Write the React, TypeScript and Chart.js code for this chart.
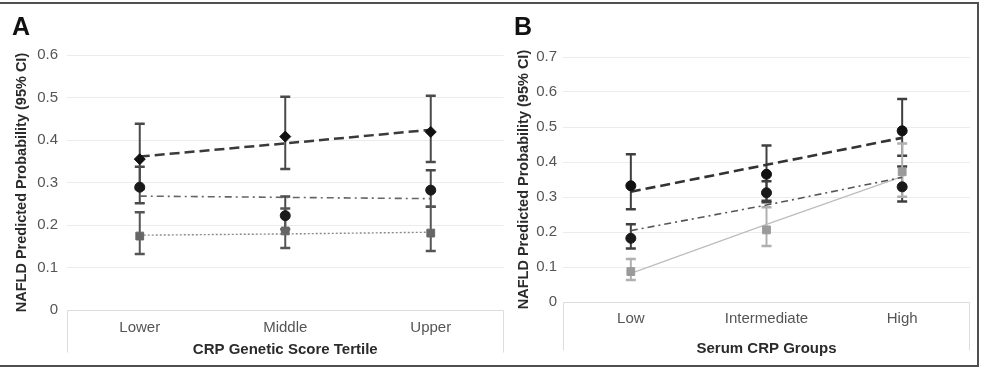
import { useEffect, useRef } from "react";
import { Chart, registerables } from "chart.js";

Chart.register(...registerables);

const FONT = "'Liberation Sans', Arial, Helvetica, sans-serif";

// ---- Panel A: CRP genetic score tertiles ----
const tertiles = ["Lower", "Middle", "Upper"];
const aYMax = 0.6;
const aSeries1 = [0.355, 0.408, 0.419];
const aSeries1Low = [0.285, 0.332, 0.348];
const aSeries1High = [0.438, 0.502, 0.504];
const aSeries2 = [0.289, 0.222, 0.282];
const aSeries2Low = [0.251, 0.19, 0.243];
const aSeries2High = [0.337, 0.267, 0.329];
const aSeries3 = [0.174, 0.186, 0.181];
const aSeries3Low = [0.132, 0.146, 0.139];
const aSeries3High = [0.23, 0.239, 0.243];
const aTrend1 = [0.361, 0.392, 0.424];
const aTrend2 = [0.268, 0.265, 0.262];
const aTrend3 = [0.176, 0.179, 0.183];

// ---- Panel B: serum CRP groups ----
const crpGroups = ["Low", "Intermediate", "High"];
const bYMax = 0.7;
const bSeries1 = [0.332, 0.365, 0.489];
const bSeries1Low = [0.265, 0.289, 0.418];
const bSeries1High = [0.422, 0.447, 0.58];
const bSeries2 = [0.182, 0.312, 0.329];
const bSeries2Low = [0.153, 0.285, 0.287];
const bSeries2High = [0.222, 0.345, 0.387];
const bSeries3 = [0.087, 0.206, 0.372];
const bSeries3Low = [0.063, 0.16, 0.301];
const bSeries3High = [0.123, 0.271, 0.453];
const bTrend1 = [0.315, 0.392, 0.469];
const bTrend2 = [0.204, 0.277, 0.356];
const bTrend3 = [0.082, 0.222, 0.358];

// Vertical 95% CI whiskers with caps, drawn under the markers
const errorBars = {
  id: "errorBars",
  beforeDatasetsDraw(chart: any) {
    const { ctx } = chart;
    const yScale = chart.scales.y;
    chart.data.datasets.forEach((ds: any, i: number) => {
      if (!ds.errLow) return;
      const meta = chart.getDatasetMeta(i);
      ctx.save();
      ctx.strokeStyle = ds.errColor;
      meta.data.forEach((pt: any, j: number) => {
        const x = pt.x;
        const yLo = yScale.getPixelForValue(ds.errLow[j]);
        const yHi = yScale.getPixelForValue(ds.errHigh[j]);
        ctx.lineWidth = 2;
        ctx.beginPath();
        ctx.moveTo(x, yLo);
        ctx.lineTo(x, yHi);
        ctx.stroke();
        ctx.lineWidth = 2.5;
        ctx.beginPath();
        ctx.moveTo(x - 5, yLo);
        ctx.lineTo(x + 5, yLo);
        ctx.moveTo(x - 5, yHi);
        ctx.lineTo(x + 5, yHi);
        ctx.stroke();
      });
      ctx.restore();
    });
  },
};

// Light frame around the category axis area
const axisBox = {
  id: "axisBox",
  beforeDatasetsDraw(chart: any, _args: any, opts: any) {
    const { ctx, chartArea } = chart;
    const y0 = Math.round(chart.scales.y.getPixelForValue(0)) + 0.5;
    const l = Math.round(chartArea.left) + 0.5;
    const r = Math.round(chartArea.right) - 0.5;
    ctx.save();
    ctx.strokeStyle = "#dcdcdc";
    ctx.lineWidth = 1;
    ctx.beginPath();
    ctx.moveTo(l, y0 + opts.depth);
    ctx.lineTo(l, y0);
    ctx.lineTo(r, y0);
    ctx.lineTo(r, y0 + opts.depth);
    ctx.stroke();
    ctx.restore();
  },
};

type Panel = {
  labels: string[];
  yMax: number;
  xTitle: string;
  points: { data: number[]; low: number[]; high: number[]; style: string; color: string; err: string; radius: number }[];
  trends: { data: number[]; color: string; width: number; dash: number[] }[];
  padding: { left: number; top: number; right: number };
  yWidth: number;
  yTickPad: number;
  xHeight: number;
  xTickPad: number;
  xTitlePad: number;
  boxDepth: number;
};

const panelA: Panel = {
  labels: tertiles,
  yMax: aYMax,
  xTitle: "CRP Genetic Score Tertile",
  points: [
    { data: aSeries1, low: aSeries1Low, high: aSeries1High, style: "rectRot", color: "#111", err: "#4a4a4a", radius: 5.5 },
    { data: aSeries2, low: aSeries2Low, high: aSeries2High, style: "circle", color: "#1a1a1a", err: "#4a4a4a", radius: 5 },
    { data: aSeries3, low: aSeries3Low, high: aSeries3High, style: "rect", color: "#666", err: "#555", radius: 5.5 },
  ],
  trends: [
    { data: aTrend1, color: "#3a3a3a", width: 2.5, dash: [10, 5] },
    { data: aTrend2, color: "#666", width: 1.6, dash: [7, 4, 2, 4] },
    { data: aTrend3, color: "#8a8a8a", width: 1.4, dash: [2, 2] },
  ],
  padding: { left: 13, top: 55, right: 5 },
  yWidth: 54,
  yTickPad: 9,
  xHeight: 58,
  xTickPad: 9,
  xTitlePad: 9,
  boxDepth: 42,
};

const panelB: Panel = {
  labels: crpGroups,
  yMax: bYMax,
  xTitle: "Serum CRP Groups",
  points: [
    { data: bSeries1, low: bSeries1Low, high: bSeries1High, style: "circle", color: "#111", err: "#3f3f3f", radius: 5 },
    { data: bSeries2, low: bSeries2Low, high: bSeries2High, style: "circle", color: "#1a1a1a", err: "#3f3f3f", radius: 5 },
    { data: bSeries3, low: bSeries3Low, high: bSeries3High, style: "rect", color: "#9a9a9a", err: "#b0b0b0", radius: 5.5 },
  ],
  trends: [
    { data: bTrend1, color: "#333", width: 2.6, dash: [10, 5] },
    { data: bTrend2, color: "#555", width: 1.6, dash: [7, 4, 2, 4] },
    { data: bTrend3, color: "#bdbdbd", width: 1.3, dash: [] },
  ],
  padding: { left: 5, top: 57, right: 25 },
  yWidth: 48,
  yTickPad: 6,
  xHeight: 66,
  xTickPad: 8,
  xTitlePad: 10,
  boxDepth: 48,
};

function PanelChart({ panel, width, height }: { panel: Panel; width: number; height: number }) {
  const ref = useRef<HTMLCanvasElement>(null);
  useEffect(() => {
    if (!ref.current) return;
    const datasets: any[] = [];
    panel.points.forEach((p) => {
      datasets.push({
        type: "line",
        data: p.data,
        showLine: false,
        pointStyle: p.style,
        pointRadius: p.radius,
        pointBackgroundColor: p.color,
        pointBorderColor: p.color,
        pointBorderWidth: 1,
        errLow: p.low,
        errHigh: p.high,
        errColor: p.err,
        order: 0,
      });
    });
    panel.trends.forEach((t) => {
      datasets.push({
        type: "line",
        data: t.data,
        borderColor: t.color,
        borderWidth: t.width,
        borderDash: t.dash,
        pointRadius: 0,
        fill: false,
        tension: 0,
        order: 1,
      });
    });
    const chart = new Chart(ref.current, {
      type: "line",
      data: { labels: panel.labels, datasets },
      plugins: [axisBox, errorBars],
      options: {
        responsive: false,
        animation: false,
        devicePixelRatio: 1,
        layout: { padding: { ...panel.padding, bottom: 0 } },
        plugins: {
          legend: { display: false },
          tooltip: { enabled: false },
          axisBox: { depth: panel.boxDepth },
        } as any,
        scales: {
          x: {
            type: "category",
            offset: true,
            grid: { display: false, drawTicks: false },
            border: { display: false },
            ticks: {
              color: "#555",
              font: { family: FONT, size: 15 },
              padding: panel.xTickPad,
              maxRotation: 0,
              autoSkip: false,
            },
            title: {
              display: true,
              text: panel.xTitle,
              color: "#2b2b2b",
              font: { family: FONT, size: 15, weight: "bold" },
              padding: { top: 0, bottom: panel.xTitlePad },
            },
            afterFit: (s: any) => {
              s.height = panel.xHeight;
            },
          },
          y: {
            min: 0,
            max: panel.yMax,
            grid: {
              drawTicks: false,
              color: (c: any) => (c.tick && c.tick.value === 0 ? "rgba(0,0,0,0)" : "#ececec"),
              lineWidth: 1,
            },
            border: { display: false },
            ticks: {
              stepSize: 0.1,
              color: "#555",
              font: { family: FONT, size: 15 },
              padding: panel.yTickPad,
              callback: (v: any) => String(Math.round(Number(v) * 10) / 10),
            },
            title: {
              display: true,
              text: "NAFLD Predicted Probability (95% CI)",
              color: "#2b2b2b",
              font: { family: FONT, size: 14.5, weight: "bold" },
              padding: 0,
            },
            afterFit: (s: any) => {
              s.width = panel.yWidth;
            },
          },
        },
      } as any,
    });
    return () => chart.destroy();
  }, [panel]);
  return <canvas ref={ref} width={width} height={height} style={{ display: "block", width, height }} />;
}

const letterStyle: React.CSSProperties = {
  position: "absolute",
  top: 14,
  fontFamily: FONT,
  fontWeight: "bold",
  fontSize: 25,
  lineHeight: "25px",
  color: "#111",
};

export default function App() {
  return (
    <div
      style={{
        position: "absolute",
        left: 0,
        top: 0,
        width: 995,
        height: 368,
        overflow: "hidden",
        background: "#fff",
      }}
    >
      <div style={{ position: "absolute", left: 0, top: 0 }}>
        <PanelChart panel={panelA} width={510} height={368} />
      </div>
      <div style={{ position: "absolute", left: 510, top: 0 }}>
        <PanelChart panel={panelB} width={485} height={368} />
      </div>
      <div style={{ ...letterStyle, left: 12 }}>A</div>
      <div style={{ ...letterStyle, left: 514 }}>B</div>
      <div
        style={{
          position: "absolute",
          left: -10,
          top: 2,
          width: 989,
          height: 365,
          boxSizing: "border-box",
          border: "2px solid #4f4f4f",
          pointerEvents: "none",
        }}
      />
    </div>
  );
}
